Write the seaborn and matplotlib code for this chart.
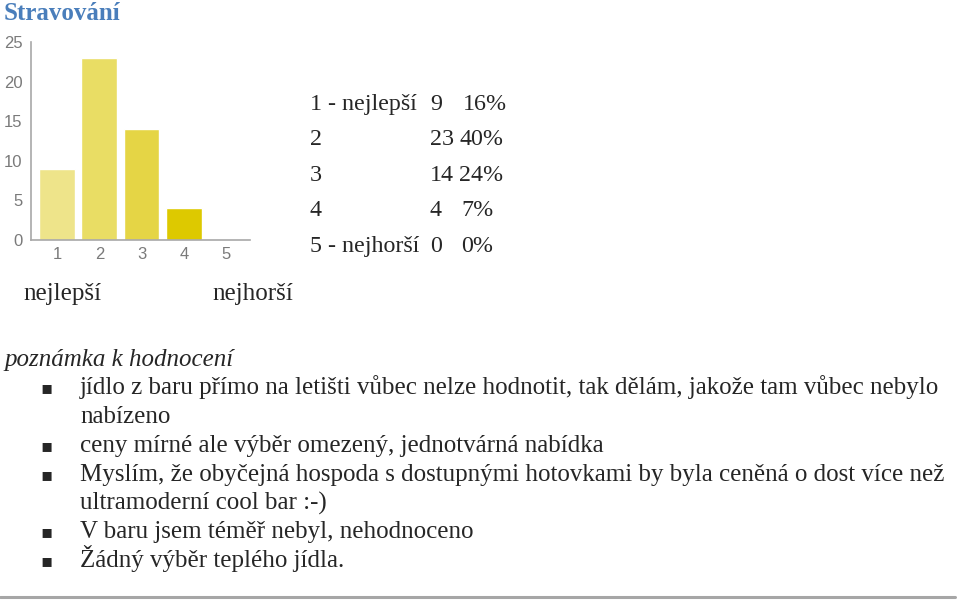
import matplotlib
matplotlib.use("Agg")
import matplotlib.pyplot as plt
import pandas as pd
import seaborn as sns
from matplotlib.lines import Line2D

# survey data
categories = ["1", "2", "3", "4", "5"]
counts = [9, 23, 14, 4, 0]
percents = ["16%", "40%", "24%", "7%", "0%"]
row_labels = ["1 - nejlepší", "2", "3", "4", "5 - nejhorší"]
bar_colors = ["#EEE48A", "#E9DD64", "#E5D545", "#DDC900", "#D4BE00"]

title = "Stravování"
scale_labels = ["nejlepší", "nejhorší"]
notes_heading = "poznámka k hodnocení"
notes = [
    ["jídlo z baru přímo na letišti vůbec nelze hodnotit, tak dělám, jakože tam vůbec nebylo",
     "nabízeno"],
    ["ceny mírné ale výběr omezený, jednotvárná nabídka"],
    ["Myslím, že obyčejná hospoda s dostupnými hotovkami by byla ceněná o dost více než",
     "ultramoderní cool bar :-)"],
    ["V baru jsem téměř nebyl, nehodnoceno"],
    ["Žádný výběr teplého jídla."],
]

W, H = 960, 601
sns.set_theme(style="white")
plt.rcParams["font.family"] = ["Liberation Serif", "DejaVu Serif"]
FS = 18
TABLE_FS = 17.3

fig = plt.figure(figsize=(W / 100, H / 100), dpi=100)
fig.patch.set_facecolor("white")


def fx(px):
    return px / W


def fy(py):
    return 1 - py / H


ax = fig.add_axes([fx(31), fy(240), fx(250) - fx(31), fy(42) - fy(240)])
df = pd.DataFrame({"rating": categories, "count": counts})
sns.barplot(data=df, x="rating", y="count", hue="rating", palette=bar_colors,
            legend=False, width=0.85, saturation=1, ax=ax)
ax.set_xlim(-0.62, 4.57)
ax.set_ylim(0, 25)
ax.set_yticks([0, 5, 10, 15, 20, 25])
ax.set_xlabel("")
ax.set_ylabel("")
for side in ["top", "right"]:
    ax.spines[side].set_visible(False)
for side in ["left", "bottom"]:
    ax.spines[side].set_color("#A8A8A8")
    ax.spines[side].set_linewidth(1.2)
ax.tick_params(axis="both", length=4, width=1, color="#A8A8A8", colors="#7A7A7A",
               labelsize=12, pad=2)
ax.tick_params(axis="x", pad=1)
for lbl in ax.get_xticklabels() + ax.get_yticklabels():
    lbl.set_fontfamily("Liberation Sans")

# title
fig.text(fx(4), fy(20), title, fontsize=FS, fontweight="bold", color="#4A7EBB",
         va="baseline", ha="left")

# frequency table
pct_x = [463, 459, 459, 461, 461]
for i, (lab, c, p) in enumerate(zip(row_labels, counts, percents)):
    base = fy(110 + i * 35.4)
    fig.text(fx(310), base, lab, fontsize=TABLE_FS, va="baseline", ha="left")
    fig.text(fx(430), base, str(c), fontsize=TABLE_FS, va="baseline", ha="left")
    fig.text(fx(pct_x[i]), base, p, fontsize=TABLE_FS, va="baseline", ha="left")

fig.text(fx(23), fy(300), scale_labels[0], fontsize=FS, va="baseline", ha="left")
fig.text(fx(212), fy(300), scale_labels[1], fontsize=FS, va="baseline", ha="left")

# comments
fig.text(fx(4), fy(366), notes_heading, fontsize=FS, style="italic",
         va="baseline", ha="left")
line_y = 394
for note in notes:
    fig.text(fx(46), fy(line_y - 6), "▪", fontsize=13, family="DejaVu Sans",
             va="center", ha="center")
    for line in note:
        fig.text(fx(80), fy(line_y), line, fontsize=FS, va="baseline", ha="left")
        line_y += 28.9

fig.add_artist(Line2D([0, fx(955)], [fy(597), fy(597)], color="#A6A6A6",
                      linewidth=2.2))

fig.savefig("out.png", dpi=100, facecolor="white")
